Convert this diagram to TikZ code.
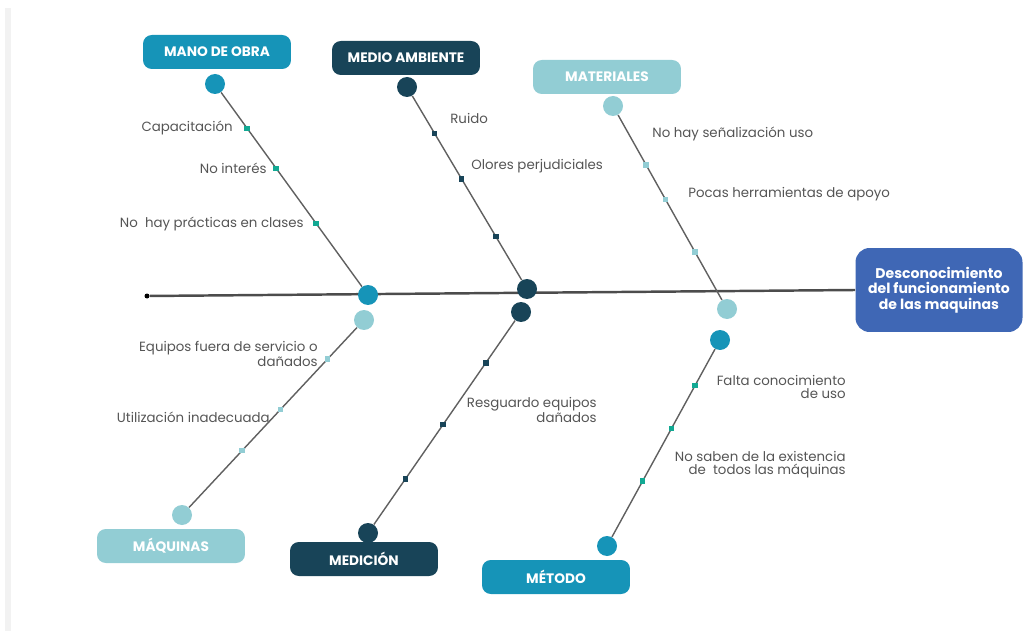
\documentclass[tikz,border=0pt]{standalone}
\usepackage{fontspec}
\setmainfont{Poppins}
\usepackage{tikz}
\usetikzlibrary{calc,positioning}

\definecolor{tealb}{RGB}{22,148,184}
\definecolor{navy}{RGB}{24,68,88}
\definecolor{lteal}{RGB}{146,205,212}
\definecolor{effblue}{RGB}{63,103,181}
\definecolor{txtgray}{RGB}{85,85,85}

\tikzset{
  cat/.style={rounded corners=5pt, minimum width=2.96cm, minimum height=0.68cm,
    inner sep=0pt, text=white, font=\fontsize{7.8}{8}\selectfont\bfseries},
  hub/.style={circle, minimum size=0.4cm, inner sep=0pt},
  mk/.style={rectangle, minimum size=0.11cm, inner sep=0pt},
  cause/.style={text=txtgray, inner sep=0pt, font=\fontsize{7.6}{7.4}\selectfont},
  bone/.style={draw=gray!75!black, line width=0.8pt},
}

\begin{document}
\begin{tikzpicture}[x=0.02cm,y=-0.02cm]
    %%Background
    \useasboundingbox (0,0) rectangle (1026,631);
    \draw[gray!10, line width=3pt] (8,8) to (8,631);

    %% Effect and spine
    \node[fill=effblue, rounded corners=8pt, minimum width=3.34cm, minimum height=1.68cm,
      text=white, align=center, font=\fontsize{8}{8.8}\selectfont\bfseries] (eff) at (939,290)
      {Desconocimiento\\del funcionamiento\\de las maquinas};
    \node[circle, fill=black, minimum size=0.1cm, inner sep=0pt] (tail) at (147,296) {};
    \draw[draw=gray!60!black, line width=1.4pt] (tail) to (eff.west);

    %% Categories
    \node[cat, fill=tealb] (obra) at (217,52) {MANO DE OBRA};
    \node[cat, fill=navy] (amb) at (406,58) {MEDIO AMBIENTE};
    \node[cat, fill=lteal] (mat) at (607,77) {MATERIALES};
    \node[cat, fill=lteal] (maq) at (171,546) {MÁQUINAS};
    \node[cat, fill=navy] (med) at (364,559) {MEDICIÓN};
    \node[cat, fill=tealb] (met) at (556,577) {MÉTODO};

    %% Hubs
    \node[hub, fill=tealb] (obraT) at (215,84) {};
    \node[hub, fill=tealb] (obraS) at (368,295) {};
    \node[hub, fill=navy] (ambT) at (407,87) {};
    \node[hub, fill=navy] (ambS) at (527,289) {};
    \node[hub, fill=lteal] (matT) at (613,106) {};
    \node[hub, fill=lteal] (matS) at (727,309) {};
    \node[hub, fill=lteal] (maqS) at (364,320) {};
    \node[hub, fill=lteal] (maqB) at (182,515) {};
    \node[hub, fill=navy] (medS) at (521,312) {};
    \node[hub, fill=navy] (medB) at (368,533) {};
    \node[hub, fill=tealb] (metS) at (720,340) {};
    \node[hub, fill=tealb] (metB) at (607,546) {};

    %% Bones
    \draw[bone] (obraT) to (obraS);
    \draw[bone] (ambT) to (ambS);
    \draw[bone] (matT) to (matS);
    \draw[bone] (maqS) to (maqB);
    \draw[bone] (medS) to (medB);
    \draw[bone] (metS) to (metB);

    %% Markers
    \foreach \p/\n in {.21/1,.40/2,.66/3}
      \node[mk, fill=tealb!80!green] (obraM\n) at ($(obraT)!\p!(obraS)$) {};
    \foreach \p/\n in {.23/1,.455/2,.74/3}
      \node[mk, fill=navy] (ambM\n) at ($(ambT)!\p!(ambS)$) {};
    \foreach \p/\n in {.29/1,.46/2,.72/3}
      \node[mk, fill=lteal] (matM\n) at ($(matT)!\p!(matS)$) {};
    \foreach \p/\n in {.2/1,.46/2,.67/3}
      \node[mk, fill=lteal] (maqM\n) at ($(maqS)!\p!(maqB)$) {};
    \foreach \p/\n in {.23/1,.51/2,.755/3}
      \node[mk, fill=navy] (medM\n) at ($(medS)!\p!(medB)$) {};
    \foreach \p/\n in {.22/1,.43/2,.685/3}
      \node[mk, fill=tealb!80!green] (metM\n) at ($(metS)!\p!(metB)$) {};

    %% Causes
    \node[cause, anchor=east] at (233,128) {Capacitación};
    \node[cause, anchor=east] at (267,168) {No interés};
    \node[cause, anchor=east] at (304,224) {No\ \ hay prácticas en clases};
    \node[cause, anchor=west] at (450,118) {Ruido};
    \node[cause, anchor=west] at (471,166) {Olores perjudiciales};
    \node[cause, anchor=west] at (652,134) {No hay señalización uso};
    \node[cause, anchor=west] at (688,194) {Pocas herramientas de apoyo};
    \node[cause, anchor=east, align=right] at (318,354) {Equipos fuera de servicio o\\dañados};
    \node[cause, anchor=east] at (270,417) {Utilización inadecuada};
    \node[cause, anchor=east, align=right] at (597,410) {Resguardo equipos\\dañados};
    \node[cause, anchor=east, align=right] at (846,387) {Falta conocimiento\\de uso};
    \node[cause, anchor=east, align=right] at (846,465) {No saben de la existencia\\de\ \ todos las máquinas};
\end{tikzpicture}
\end{document}
